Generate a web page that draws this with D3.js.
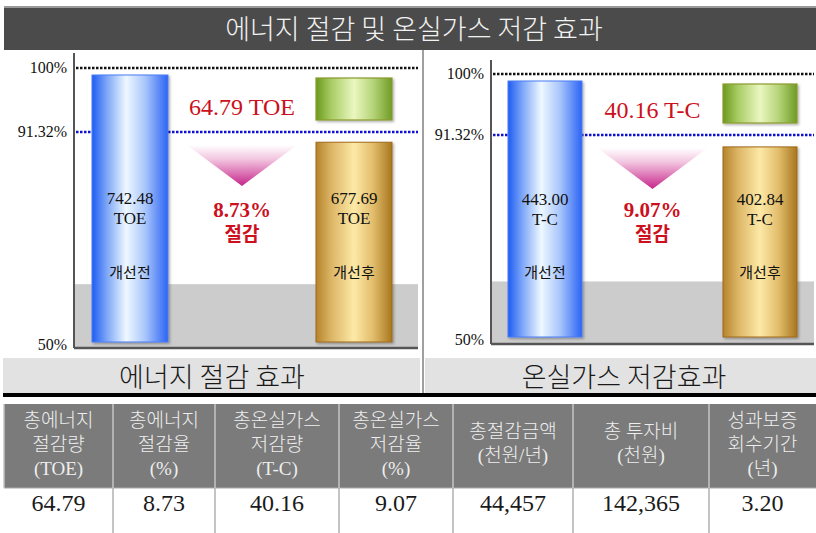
<html>
<head>
<meta charset="utf-8">
<title>에너지 절감 및 온실가스 저감 효과</title>
<script src="https://d3js.org/d3.v7.min.js"></script>
<style>
  body{margin:0;background:#fff;}
  text{font-family:"Liberation Serif","Noto Sans CJK KR",serif;}
  .kr{font-family:"Noto Sans CJK KR",sans-serif;}
</style>
</head>
<body>
<div id="chart"></div>
<script>
// data
var categories = ["개선전", "개선후"];
var energyValues = [742.48, 677.69];
var ghgValues = [443.00, 402.84];
var units = ["TOE", "T-C"];
var savedAmount = [64.79, 40.16];
var savedRate = [8.73, 9.07];
var tickValues = [100, 91.32, 50];
var tickLabels = ["100%", "91.32%", "50%"];
var panelTitles = ["에너지 절감 효과", "온실가스 저감효과"];
var tableHeaders = [["총에너지","절감량","(TOE)"], ["총에너지","절감율","(%)"],
  ["총온실가스","저감량","(T-C)"], ["총온실가스","저감율","(%)"],
  ["총절감금액","(천원/년)"], ["총 투자비","(천원)"], ["성과보증","회수기간","(년)"]];
var tableValues = ["64.79","8.73","40.16","9.07","44,457","142,365","3.20"];

var W = 816, H = 533;
var svg = d3.select("#chart").append("svg").attr("width", W).attr("height", H);
var defs = svg.append("defs");

function hgrad(id, stops){
  var g = defs.append("linearGradient").attr("id", id).attr("x1","0").attr("x2","1").attr("y1","0").attr("y2","0");
  stops.forEach(function(s){ g.append("stop").attr("offset", s[0]).attr("stop-color", s[1]); });
}
hgrad("blueG", [[0,"#1f5cf2"],[0.2,"#7fa8f8"],[0.45,"#eef8ff"],[0.7,"#a9c6fb"],[1,"#2c64f4"]]);
hgrad("goldG", [[0,"#b5842c"],[0.2,"#dcb565"],[0.5,"#fde9a6"],[0.75,"#e2bd6c"],[1,"#a8771f"]]);
hgrad("greenG", [[0,"#6b9a1e"],[0.2,"#a8cc64"],[0.5,"#eaf7c0"],[0.75,"#b6d479"],[1,"#6f9c25"]]);
var tg = defs.append("linearGradient").attr("id","triG").attr("x1","0").attr("x2","0").attr("y1","0").attr("y2","1");
tg.append("stop").attr("offset",0).attr("stop-color","#ffffff");
tg.append("stop").attr("offset",0.35).attr("stop-color","#f2c4df");
tg.append("stop").attr("offset",1).attr("stop-color","#c6258a");
var sh = defs.append("filter").attr("id","shadow").attr("x","-10%").attr("y","-10%").attr("width","130%").attr("height","130%");
sh.append("feDropShadow").attr("dx",1.5).attr("dy",1.5).attr("stdDeviation",1).attr("flood-color","#000").attr("flood-opacity",0.3);

// title bar
svg.append("rect").attr("x",4).attr("y",6).attr("width",W-4).attr("height",2).attr("fill","#9a9a9a");
svg.append("rect").attr("x",4).attr("y",8).attr("width",W-4).attr("height",42).attr("fill","#4b4b4b");
svg.append("text").attr("class","kr").attr("x",414).attr("y",39).attr("text-anchor","middle")
  .attr("fill","#f2f2f2").style("font-size","27px").style("font-weight",300)
  .text("에너지 절감 및 온실가스 저감 효과");

// divider between panels
svg.append("line").attr("x1",423).attr("x2",423).attr("y1",50).attr("y2",393).attr("stroke","#808080").attr("stroke-width",1.5);

var panels = [
  {x0:74, x1:420, y100:68, y91:132, y50:345, axisTop:53, base:348, range:[130,354], bw:76,
   values:energyValues, unit:units[0], amount:savedAmount[0], rate:savedRate[0], title:panelTitles[0],
   gx0:3, gx1:420, tcx:212, amountY:115, valY:204},
  {x0:491, x1:816, y100:74, y91:135, y50:340, axisTop:60, base:344, range:[545,760], bw:74,
   values:ghgValues, unit:units[1], amount:savedAmount[1], rate:savedRate[1], title:panelTitles[1],
   gx0:425, gx1:816, tcx:624, amountY:118, valY:205}
];

panels.forEach(function(p){
  var g = svg.append("g");
  var y = d3.scaleLinear().domain([50, 91.32, 100]).range([p.y50, p.y91, p.y100]);
  var x = d3.scalePoint().domain([categories[0], "절감", categories[1]]).range(p.range);
  var pct = p.values.map(function(v){ return v / p.values[0] * 100; });

  // shaded lower band
  g.append("rect").attr("x",p.x0).attr("width",p.x1-p.x0-2)
    .attr("y",y(61.8)).attr("height",p.base-y(61.8)).attr("fill","#cccccc");

  // axes
  g.append("line").attr("x1",p.x0).attr("x2",p.x0).attr("y1",p.axisTop).attr("y2",p.base)
    .attr("stroke","#555").attr("stroke-width",2);
  g.append("line").attr("x1",p.x0).attr("x2",p.x1-2).attr("y1",p.base).attr("y2",p.base)
    .attr("stroke","#555").attr("stroke-width",2.5);

  // reference lines
  g.append("line").attr("x1",p.x0+2).attr("x2",p.x1-2).attr("y1",y(100)).attr("y2",y(100))
    .attr("stroke","#111").attr("stroke-width",2.5).attr("stroke-dasharray","2.5,1.5");
  g.append("line").attr("x1",p.x0+2).attr("x2",p.x1-2).attr("y1",y(91.32)).attr("y2",y(91.32))
    .attr("stroke","#1010d0").attr("stroke-width",2.5).attr("stroke-dasharray","2.5,1.5");

  // tick labels
  g.selectAll(".tick").data(tickValues).enter().append("text")
    .attr("x",p.x0-7).attr("y",function(d){ return y(d)+5; })
    .attr("text-anchor","end").attr("fill","#111").style("font-size","16px")
    .text(function(d,i){ return tickLabels[i]; });

  // bars
  var fills = ["url(#blueG)","url(#goldG)"], strokes = ["#4a7df5","#a0681a"];
  var tops = [7, 10];
  g.selectAll(".bar").data(pct).enter().append("rect")
    .attr("x",function(d,i){ return x(categories[i]) - p.bw/2; })
    .attr("y",function(d,i){ return y(d) + tops[i]; })
    .attr("width",p.bw)
    .attr("height",function(d,i){ return y(50) - 3 - (y(d) + tops[i]); })
    .attr("fill",function(d,i){ return fills[i]; })
    .attr("stroke",function(d,i){ return strokes[i]; }).attr("stroke-width",1)
    .attr("filter","url(#shadow)");

  // saved part (green block)
  g.append("rect").attr("x",x(categories[1]) - p.bw/2).attr("width",p.bw)
    .attr("y",y(100)+10).attr("height",(y(91.32)-12)-(y(100)+10))
    .attr("fill","url(#greenG)").attr("stroke","#8c9a2e").attr("stroke-width",1.2)
    .attr("filter","url(#shadow)");

  // bar labels
  p.values.forEach(function(v,i){
    var cx = x(categories[i]);
    var t = g.append("text").attr("x",cx).attr("y",p.valY).attr("text-anchor","middle")
      .attr("fill","#111").style("font-size","17px");
    t.append("tspan").attr("x",cx).text(v.toFixed(2));
    t.append("tspan").attr("x",cx).attr("dy",20).text(p.unit);
    g.append("text").attr("class","kr").attr("x",cx).attr("y",278).attr("text-anchor","middle")
      .attr("fill","#111").style("font-size","15px").text(categories[i]);
  });

  // reduction arrow
  var cx = x("절감"), tt = y(91.32)+13;
  g.append("path").attr("d","M"+(cx-55)+","+tt+"L"+(cx+55)+","+tt+"L"+cx+","+(tt+41)+"Z")
    .attr("fill","url(#triG)");
  g.append("text").attr("x",cx).attr("y",p.amountY).attr("text-anchor","middle")
    .attr("fill","#cc1020").style("font-size","24px").text(p.amount.toFixed(2) + " " + p.unit);
  var r = g.append("text").attr("x",cx).attr("y",217).attr("text-anchor","middle")
    .attr("fill","#cc1020").style("font-weight","bold");
  r.append("tspan").attr("x",cx).style("font-size","21px").text(p.rate.toFixed(2) + "%");
  r.append("tspan").attr("x",cx).attr("dy",24).style("font-size","19px").text("절감");

  // panel caption
  svg.append("rect").attr("x",p.gx0).attr("y",358).attr("width",p.gx1-p.gx0).attr("height",35).attr("fill","#e2e2e2");
  svg.append("text").attr("class","kr").attr("x",p.tcx).attr("y",387).attr("text-anchor","middle")
    .attr("fill","#1a1a1a").style("font-size","27px").style("font-weight",300).text(p.title);
});

svg.append("rect").attr("x",3).attr("y",393).attr("width",W-3).attr("height",4).attr("fill","#000");

// summary table
var colEdges = [4, 113, 215, 339, 453, 573, 709, 816];
svg.append("rect").attr("x",4).attr("y",404).attr("width",W-4).attr("height",84).attr("fill","#7b7b7b");
svg.append("line").attr("x1",4).attr("x2",W).attr("y1",488).attr("y2",488).attr("stroke","#aaa");
colEdges.slice(0, -1).forEach(function(e, i){
  svg.append("line").attr("x1",e).attr("x2",e).attr("y1",404).attr("y2",488).attr("stroke","#c4c4c4").attr("stroke-width",1.5);
  if (i > 0) {
    svg.append("line").attr("x1",e).attr("x2",e).attr("y1",488).attr("y2",533).attr("stroke","#b0b0b0").attr("stroke-width",1.5);
  }
  var cx = (e + colEdges[i+1]) / 2;
  var lines = tableHeaders[i];
  var top = lines.length === 3 ? 427 : 438;
  var t = svg.append("text").attr("x",cx).attr("y",top).attr("text-anchor","middle")
    .attr("fill","#eeeeee").style("font-size","19px").style("font-weight",300);
  lines.forEach(function(s, k){
    t.append("tspan").attr("x",cx).attr("dy",k === 0 ? 0 : 24).text(s);
  });
  svg.append("text").attr("x",cx).attr("y",511).attr("text-anchor","middle")
    .attr("fill","#1a1a1a").style("font-size","24px").text(tableValues[i]);
});
</script>
</body>
</html>
